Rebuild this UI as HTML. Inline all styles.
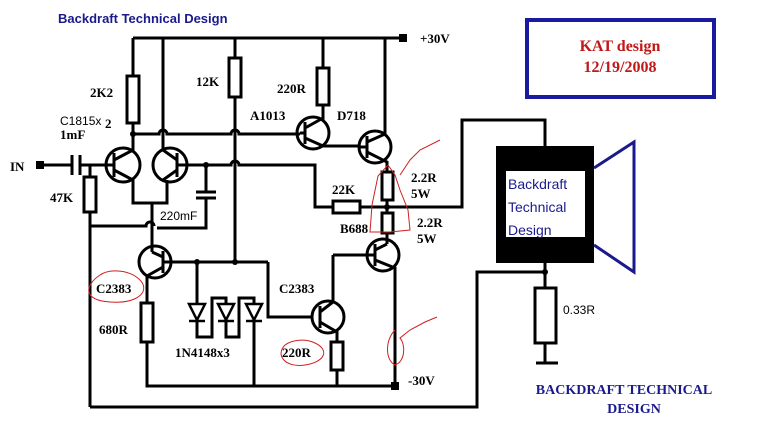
<!DOCTYPE html>
<html><head><meta charset="utf-8"><style>
html,body{margin:0;padding:0;background:#fff;}
svg{display:block;}
.b{font-family:"Liberation Serif",serif;font-weight:bold;font-size:13px;fill:#000;}
.s{font-family:"Liberation Sans",sans-serif;font-size:12px;fill:#000;}
</style></head><body>
<svg width="772" height="430" viewBox="0 0 772 430" xmlns="http://www.w3.org/2000/svg">
<rect width="772" height="430" fill="#fff"/>
<g stroke="#000" stroke-width="3" fill="none">
<path d="M133 38H403"/>
<rect x="399" y="34" width="8" height="8" fill="#000" stroke="none"/>
<path d="M133 38V76M133 123V152"/>
<rect x="127" y="76" width="12" height="47" fill="#fff"/>
<path d="M163 38V150"/>
<path d="M235 38V58M235 97V262"/>
<rect x="229" y="58" width="12" height="39" fill="#fff"/>
<path d="M323 38V68M323 105V120"/>
<rect x="317" y="68" width="12" height="37" fill="#fff"/>
<path d="M385 38V135"/>
<path d="M133 134H159a4 4 0 0 1 8 0H231a4 4 0 0 1 8 0H300"/>
<!-- Q1 -->
<circle cx="123" cy="165" r="17"/>
<path d="M114 153V177M114 165H105M114 160L133 150M114 170L133 180V203H167V180"/>
<!-- Q2 -->
<circle cx="170" cy="165" r="17"/>
<path d="M177 153V177M177 165H206M177 160L163 150M177 170L163 180"/>
<path d="M44 165H72M72 155V175M80 155V175M80 165H105M90 165V177M90 212V407"/>
<rect x="36" y="161" width="8" height="8" fill="#000" stroke="none"/>
<rect x="84" y="177" width="12" height="35" fill="#fff"/>
<path d="M206 165V192M196 192H216M196 198H216M206 198V228H157M152 203V252"/>
<path d="M90 226H146a4 4 0 0 1 8 0"/>
<path d="M206 165H231a4 4 0 0 1 8 0H315V207H333M360 207H462V120H545V146"/>
<rect x="333" y="201" width="27" height="12" fill="#fff"/>
<!-- A1013 -->
<circle cx="313" cy="133" r="16"/>
<path d="M305 122V144M300 133H305M305 128L323 118M305 138L323 146H360"/>
<!-- D718 -->
<circle cx="375" cy="147" r="16"/>
<path d="M367 136V158M360 147H367M367 142L385 134M367 152L387 162V172"/>
<rect x="382" y="172" width="11" height="28" fill="#fff"/>
<path d="M387 200V213"/>
<rect x="382" y="213" width="11" height="20" fill="#fff"/>
<path d="M387 233V244"/>
<!-- B688 -->
<circle cx="383" cy="255" r="16"/>
<path d="M375 244V266M333 255H375M375 250L387 244M375 260L395 268V386"/>
<!-- left C2383 -->
<circle cx="155" cy="262" r="16"/>
<path d="M163 251V273M163 262H268M163 257L152 252M163 267L147 276V303M147 342V386H395"/>
<rect x="141" y="303" width="12" height="39" fill="#fff"/>
<path d="M197 262V337H212V298H226V337H239V298H254V386"/>
<path d="M268 262V317H312"/>
<!-- right C2383 -->
<circle cx="328" cy="317" r="16"/>
<path d="M320 306V328M320 312L333 302V255M320 322L337 332V342M337 370V386"/>
<rect x="331" y="342" width="12" height="28" fill="#fff"/>
<rect x="391" y="382" width="8" height="8" fill="#000" stroke="none"/>
<path d="M90 407H477V272H545V263M545 272V288M545 343V363M536 363H558"/>
<rect x="535" y="288" width="21" height="55" fill="#fff"/>
</g>
<g fill="#fff" stroke="#000" stroke-width="2.5">
<path d="M189 304H205L197 320Z M218 304H234L226 320Z M246 304H262L254 320Z"/>
<path d="M189 321H205M218 321H234M246 321H262"/>
</g>
<g fill="#000">
<circle cx="133" cy="134" r="3"/><circle cx="206" cy="165" r="3"/><circle cx="197" cy="262" r="3"/>
<circle cx="235" cy="262" r="3"/><circle cx="387" cy="207" r="3"/><circle cx="545" cy="272" r="3"/>
</g>
<rect x="496" y="146" width="98" height="117" fill="#000"/>
<rect x="506" y="171" width="79" height="66" fill="#fff"/>
<path d="M594 168L634 142V272L594 245" fill="none" stroke="#1a1a8c" stroke-width="3"/>
<text x="508" y="189" font-family="Liberation Sans,sans-serif" font-size="14" fill="#1a1a8c">Backdraft</text>
<text x="508" y="212" font-family="Liberation Sans,sans-serif" font-size="14" fill="#1a1a8c">Technical</text>
<text x="508" y="235" font-family="Liberation Sans,sans-serif" font-size="14" fill="#1a1a8c">Design</text>
<rect x="527" y="20" width="187" height="77" fill="#fff" stroke="#1a1aa0" stroke-width="4"/>
<text x="620" y="51" text-anchor="middle" font-family="Liberation Serif,serif" font-weight="bold" font-size="16" fill="#c01818">KAT design</text>
<text x="620" y="72" text-anchor="middle" font-family="Liberation Serif,serif" font-weight="bold" font-size="16" fill="#c01818">12/19/2008</text>
<text x="58" y="23" font-family="Liberation Sans,sans-serif" font-weight="bold" font-size="13" fill="#1a1a8c">Backdraft Technical Design</text>
<text x="420" y="43" class="b">+30V</text>
<text x="90" y="97" class="b">2K2</text>
<text x="196" y="86" class="b">12K</text>
<text x="277" y="93" class="b">220R</text>
<text x="250" y="120" class="b">A1013</text>
<text x="337" y="120" class="b">D718</text>
<text x="60" y="125" class="s">C1815x</text><text x="105" y="128" class="b">2</text>
<text x="60" y="139" class="b">1mF</text>
<text x="10" y="171" class="b">IN</text>
<text x="50" y="202" class="b">47K</text>
<text x="160" y="220" class="s" font-size="13">220mF</text>
<text x="332" y="194" class="b">22K</text>
<text x="340" y="233" class="b">B688</text>
<text x="411" y="182" class="b">2.2R</text><text x="411" y="198" class="b">5W</text>
<text x="417" y="227" class="b">2.2R</text><text x="417" y="243" class="b">5W</text>
<text x="96" y="293" class="b">C2383</text>
<text x="279" y="293" class="b">C2383</text>
<text x="99" y="334" class="b">680R</text>
<text x="175" y="357" class="b">1N4148x3</text>
<text x="282" y="357" class="b">220R</text>
<text x="408" y="385" class="b">-30V</text>
<text x="563" y="314" class="s" font-size="13">0.33R</text>
<text x="624" y="394" text-anchor="middle" font-family="Liberation Serif,serif" font-weight="bold" font-size="14" fill="#1a1a8c">BACKDRAFT TECHNICAL</text>
<text x="634" y="413" text-anchor="middle" font-family="Liberation Serif,serif" font-weight="bold" font-size="14" fill="#1a1a8c">DESIGN</text>
<g fill="none" stroke="#d02020" stroke-width="1">
<path d="M100 275C85 285 82 300 110 302C140 304 150 290 140 280C130 270 110 268 100 275Z"/>
<path d="M285 345C275 355 285 368 305 365C325 362 330 350 315 343C305 338 292 340 285 345Z"/>
<path d="M388 165L378 176L372 205L370 232L390 232L410 230L408 210L400 190L395 175L388 165M400 175L410 160L420 150L440 140"/>
<path d="M395 330C385 340 385 360 395 365C405 362 406 345 400 338L410 330L425 322L437 317"/>
</g>
</svg>
</body></html>
